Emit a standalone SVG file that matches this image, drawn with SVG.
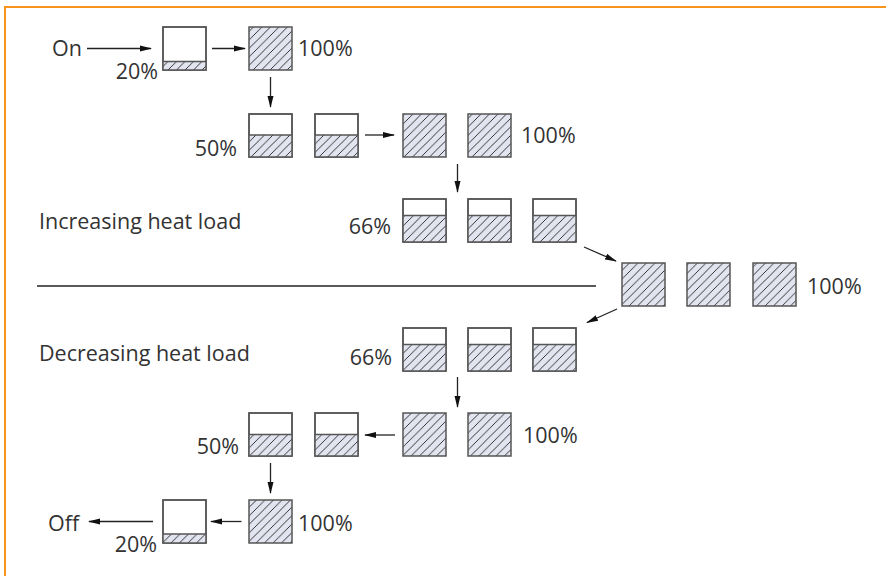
<svg xmlns="http://www.w3.org/2000/svg" width="886" height="576" viewBox="0 0 886 576">
<style>
.t{font-family:"Open Sans","Liberation Sans",sans-serif;font-size:21.5px;fill:#333}
.box{fill:#fff;stroke:#555;stroke-width:1.5}
.full{fill:url(#hatch);stroke:#555;stroke-width:1.5}
.hf{fill:url(#hatch);stroke:none}
.lvl{stroke:#555;stroke-width:1.5}
.c{stroke:#222;stroke-width:1.3;fill:none;marker-end:url(#ah)}
</style>
<defs>
<pattern id="hatch" patternUnits="userSpaceOnUse" width="8.5" height="8.5">
<rect width="8.5" height="8.5" fill="#e2e4ef"/>
<path d="M-2,2 L2,-2 M0,8.5 L8.5,0 M6.5,10.5 L10.5,6.5" stroke="#222" stroke-width="0.9"/>
</pattern>
<marker id="ah" markerWidth="12" markerHeight="8" refX="11" refY="4" orient="auto" markerUnits="userSpaceOnUse">
<path d="M0,1 L12,4 L0,7 Z" fill="#111"/>
</marker>
</defs>
<rect x="5" y="7" width="900" height="600" fill="none" stroke="#f7941d" stroke-width="2"/>

<g id="labels">
<text class="t" x="52" y="56">On</text>
<text class="t" x="158" y="79" text-anchor="end">20%</text>
<text class="t" x="298" y="56">100%</text>
<text class="t" x="237" y="156" text-anchor="end">50%</text>
<text class="t" x="521" y="143">100%</text>
<text class="t" x="39" y="229">Increasing heat load</text>
<text class="t" x="391" y="234" text-anchor="end">66%</text>
<text class="t" x="807" y="294">100%</text>
<text class="t" x="39" y="361">Decreasing heat load</text>
<text class="t" x="392" y="365" text-anchor="end">66%</text>
<text class="t" x="239" y="454" text-anchor="end">50%</text>
<text class="t" x="523" y="443">100%</text>
<text class="t" x="48" y="531">Off</text>
<text class="t" x="157" y="552" text-anchor="end">20%</text>
<text class="t" x="298" y="531">100%</text>
</g>

<g id="r1a"><rect class="box" x="163" y="27" width="43" height="43"/><rect class="hf" x="163" y="61.5" width="43" height="8.5"/><line class="lvl" x1="163" y1="61.5" x2="206" y2="61.5"/><rect class="box" x="163" y="27" width="43" height="43" fill="none" style="fill:none"/></g>
<g id="r1b"><rect class="full" x="249" y="27" width="43" height="43"/></g>

<g id="r2a"><rect class="box" x="249" y="114" width="43" height="43"/><rect class="hf" x="249" y="135" width="43" height="22"/><line class="lvl" x1="249" y1="135" x2="292" y2="135"/><rect class="box" style="fill:none" x="249" y="114" width="43" height="43"/></g>
<g id="r2b"><rect class="box" x="315" y="114" width="43" height="43"/><rect class="hf" x="315" y="135" width="43" height="22"/><line class="lvl" x1="315" y1="135" x2="358" y2="135"/><rect class="box" style="fill:none" x="315" y="114" width="43" height="43"/></g>
<g id="r2c"><rect class="full" x="403" y="114" width="43" height="43"/></g>
<g id="r2d"><rect class="full" x="468" y="114" width="43" height="43"/></g>

<g id="r3a"><rect class="box" x="403" y="199" width="43" height="43"/><rect class="hf" x="403" y="215.5" width="43" height="26.5"/><line class="lvl" x1="403" y1="215.5" x2="446" y2="215.5"/><rect class="box" style="fill:none" x="403" y="199" width="43" height="43"/></g>
<g id="r3b"><rect class="box" x="468" y="199" width="43" height="43"/><rect class="hf" x="468" y="215.5" width="43" height="26.5"/><line class="lvl" x1="468" y1="215.5" x2="511" y2="215.5"/><rect class="box" style="fill:none" x="468" y="199" width="43" height="43"/></g>
<g id="r3c"><rect class="box" x="533" y="199" width="43" height="43"/><rect class="hf" x="533" y="215.5" width="43" height="26.5"/><line class="lvl" x1="533" y1="215.5" x2="576" y2="215.5"/><rect class="box" style="fill:none" x="533" y="199" width="43" height="43"/></g>

<g id="r4a"><rect class="full" x="622" y="263" width="43" height="43"/></g>
<g id="r4b"><rect class="full" x="687" y="263" width="43" height="43"/></g>
<g id="r4c"><rect class="full" x="753" y="263" width="43" height="43"/></g>

<g id="r5a"><rect class="box" x="403" y="328" width="43" height="43"/><rect class="hf" x="403" y="344.5" width="43" height="26.5"/><line class="lvl" x1="403" y1="344.5" x2="446" y2="344.5"/><rect class="box" style="fill:none" x="403" y="328" width="43" height="43"/></g>
<g id="r5b"><rect class="box" x="468" y="328" width="43" height="43"/><rect class="hf" x="468" y="344.5" width="43" height="26.5"/><line class="lvl" x1="468" y1="344.5" x2="511" y2="344.5"/><rect class="box" style="fill:none" x="468" y="328" width="43" height="43"/></g>
<g id="r5c"><rect class="box" x="533" y="328" width="43" height="43"/><rect class="hf" x="533" y="344.5" width="43" height="26.5"/><line class="lvl" x1="533" y1="344.5" x2="576" y2="344.5"/><rect class="box" style="fill:none" x="533" y="328" width="43" height="43"/></g>

<g id="r6a"><rect class="box" x="249" y="413" width="43" height="43"/><rect class="hf" x="249" y="434.5" width="43" height="21.5"/><line class="lvl" x1="249" y1="434.5" x2="292" y2="434.5"/><rect class="box" style="fill:none" x="249" y="413" width="43" height="43"/></g>
<g id="r6b"><rect class="box" x="315" y="413" width="43" height="43"/><rect class="hf" x="315" y="434.5" width="43" height="21.5"/><line class="lvl" x1="315" y1="434.5" x2="358" y2="434.5"/><rect class="box" style="fill:none" x="315" y="413" width="43" height="43"/></g>
<g id="r6c"><rect class="full" x="403" y="413" width="43" height="43"/></g>
<g id="r6d"><rect class="full" x="468" y="413" width="43" height="43"/></g>

<g id="r7a"><rect class="box" x="163" y="500" width="43" height="43"/><rect class="hf" x="163" y="534" width="43" height="9"/><line class="lvl" x1="163" y1="534" x2="206" y2="534"/><rect class="box" style="fill:none" x="163" y="500" width="43" height="43"/></g>
<g id="r7b"><rect class="full" x="249" y="500" width="43" height="43"/></g>

<g id="connectors">
<line class="c" x1="87" y1="48.5" x2="151" y2="48.5"/>
<line class="c" x1="212" y1="48.5" x2="245" y2="48.5"/>
<line class="c" x1="270.5" y1="77" x2="270.5" y2="107"/>
<line class="c" x1="365" y1="135" x2="394" y2="135"/>
<line class="c" x1="457.5" y1="164" x2="457.5" y2="192"/>
<line class="c" x1="584" y1="247" x2="616" y2="261"/>
<line x1="37" y1="286" x2="596" y2="286" stroke="#222" stroke-width="1.3"/>
<line class="c" x1="617" y1="309" x2="587" y2="322.5"/>
<line class="c" x1="457.5" y1="377" x2="457.5" y2="407"/>
<line class="c" x1="395" y1="435" x2="365" y2="435"/>
<line class="c" x1="270.5" y1="463" x2="270.5" y2="493"/>
<line class="c" x1="241.5" y1="521.5" x2="211" y2="521.5"/>
<line class="c" x1="153" y1="521.5" x2="89" y2="521.5"/>
</g>
</svg>
